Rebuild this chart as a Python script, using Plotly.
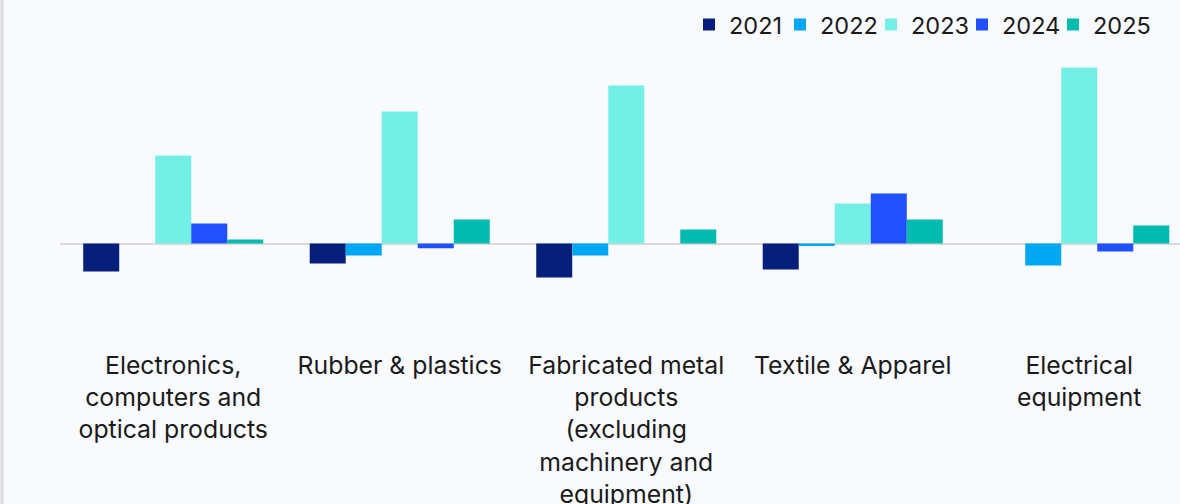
import plotly.graph_objects as go

categories = [
    "Electronics,<br>computers and<br>optical products",
    "Rubber & plastics",
    "Fabricated metal<br>products<br>(excluding<br>machinery and<br>equipment)",
    "Textile & Apparel",
    "Electrical<br>equipment",
]
years = ["2021", "2022", "2023", "2024", "2025"]
colors = ["#061F7A", "#00A8F4", "#74EFE6", "#2050FF", "#00BBAE"]

v2021 = [-7.0, -5.0, -8.5, -6.5, 0.0]
v2022 = [0.0, -3.0, -3.0, -0.6, -5.5]
v2023 = [22.0, 33.0, 39.5, 10.0, 44.0]
v2024 = [5.0, -1.2, 0.0, 12.5, -2.0]
v2025 = [1.0, 6.0, 3.5, 6.0, 4.5]
series = [v2021, v2022, v2023, v2024, v2025]

fig = go.Figure()
for i, (name, vals, col) in enumerate(zip(years, series, colors)):
    fig.add_trace(go.Bar(x=categories, y=vals, name=name, marker_color=col,
                         marker_line_width=0,
                         legendwidth=60 if i == len(years) - 1 else None))

fig.update_layout(
    width=1180, height=504,
    margin=dict(l=60, r=0, t=50, b=159, autoexpand=False),
    paper_bgcolor="#F9FAFE", plot_bgcolor="#F9FAFE",
    barmode="group", bargap=0.205, bargroupgap=0,
    font=dict(family="Inter", size=23, color="#1A1A1A"),
    showlegend=True,
    legend=dict(orientation="h", xanchor="left", x=(689 - 60) / 1120,
                yanchor="top", y=1.16,
                font=dict(size=23.5), bgcolor="rgba(0,0,0,0)", itemwidth=30,
                entrywidth=46, entrywidthmode="pixels",
                traceorder="normal"),
)
fig.update_xaxes(range=[-0.5, -0.5 + 1120 / 226.5], showgrid=False, showline=False,
                 ticks="", tickfont=dict(size=24.8), ticklabelstandoff=3,
                 automargin=False)
fig.update_yaxes(range=[-25.375, 48.375], showgrid=False, showticklabels=False,
                 zeroline=True, zerolinecolor="#D9D9D9", zerolinewidth=2,
                 automargin=False)
fig.add_shape(type="line", xref="paper", yref="paper", x0=-58/1120, x1=-58/1120,
              y0=-159/295, y1=1 + 50/295, line=dict(color="#D9D9D9", width=3))
fig.write_html("out.html")
